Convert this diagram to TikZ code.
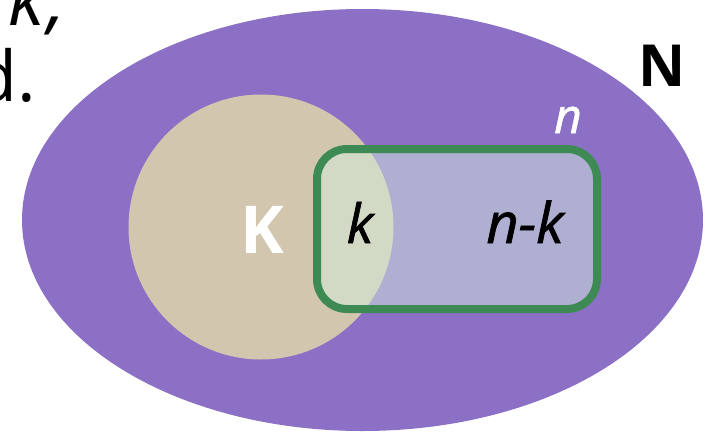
\documentclass[tikz,border=0pt]{standalone}
\usepackage{fontspec}
\setmainfont{Open Sans}
\newfontfamily\semifam{Open Sans}[FakeBold=1.3, ItalicFeatures={FakeBold=1.3}]
\newcommand{\semiit}{\semifam\itshape}
\usetikzlibrary{shapes.geometric}
\definecolor{purp}{RGB}{139,112,198}
\definecolor{tan}{RGB}{211,198,175}
\definecolor{grn}{RGB}{62,138,85}
\definecolor{mint}{RGB}{210,238,220}
\tikzset{
  lbl/.style={inner sep=0pt, anchor=base},
}
\begin{document}
\begin{tikzpicture}[x=1pt,y=-1pt]
\useasboundingbox (0,0) rectangle (713,432);
\begin{scope}
\clip (0,0) rectangle (713,432);
\node[lbl, anchor=base east, font=\fontsize{74}{74}\selectfont\itshape] (tk) at (66,25) {k\kern3pt,};
\node[lbl, anchor=base east, font=\fontsize{70}{70}\selectfont] (td) at (36,101) {d.};
\node[ellipse, fill=purp, minimum width=681pt, minimum height=422pt, inner sep=0pt, draw=none] (N) at (362.5,220) {};
\end{scope}
\node[circle, fill=tan, minimum size=265pt, inner sep=0pt] (K) at (261,227) {};
\node[draw=grn, line width=8pt, fill=mint, fill opacity=0.5, rounded corners=30pt, minimum width=280pt, minimum height=160pt, inner sep=0pt] (R) at (457,229) {};
\node[lbl, font=\fontsize{66}{66}\selectfont\bfseries, text=white] (Kl) at (262,253) {K};
\node[lbl, font=\fontsize{58}{58}\selectfont\bfseries] (Nl) at (662,86) {N};
\node[lbl, font=\fontsize{48}{48}\selectfont\semiit, text=white] (nl) at (568,133) {n};
\node[lbl, font=\fontsize{54}{54}\selectfont\semiit] (kl) at (360,243) {k};
\node[lbl, font=\fontsize{56}{56}\selectfont\semiit] (nkl) at (525,243) {n-k};
\end{tikzpicture}
\end{document}
